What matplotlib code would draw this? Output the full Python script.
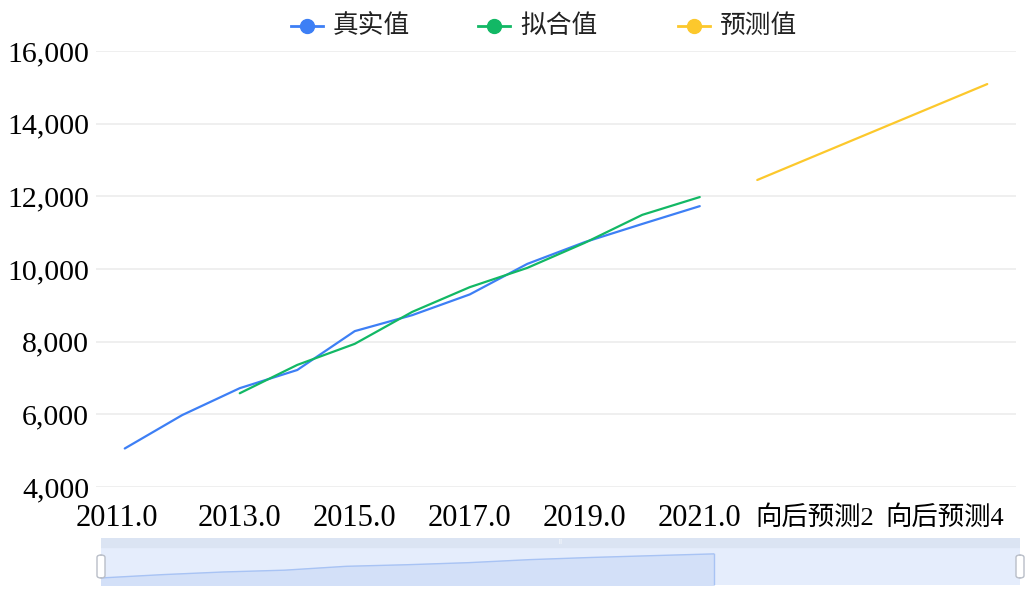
import matplotlib
matplotlib.use("Agg")
import matplotlib.pyplot as plt
import matplotlib.transforms as mtransforms
from matplotlib.lines import Line2D
from matplotlib.patches import FancyBboxPatch, Rectangle
import numpy as np

plt.rcParams['font.family'] = ['Liberation Serif', 'Noto Sans CJK SC', 'DejaVu Sans']

# ─── datos ───
categorias = ["2011.0", "2012.0", "2013.0", "2014.0", "2015.0", "2016.0",
              "2017.0", "2018.0", "2019.0", "2020.0", "2021.0",
              "向后预测1", "向后预测2", "向后预测3", "向后预测4", "向后预测5"]
real = [5060, 5980, 6720, 7220, 8290, 8730, 9300, 10140, 10740, 11240, 11730]
ajuste = [None, None, 6580, 7360, 7940, 8820, 9500, 10030, 10720, 11490, 11980]
prediccion = [12450, 13110, 13770, 14430, 15090]
yticks = [4000, 6000, 8000, 10000, 12000, 14000, 16000]

AZUL = "#3d7ff5"
VERDE = "#12b865"
AMARILLO = "#fcc82c"

W, H = 1032, 595
fig = plt.figure(figsize=(W / 100, H / 100), dpi=100)

# ─── gráfica principal ───
ax = fig.add_axes([96 / W, 1 - 487 / H, 920 / W, 436 / H])
x = np.arange(len(categorias))
ax.plot(x[:len(real)], real, color=AZUL, lw=1.6, solid_capstyle="round")
xa = [i for i, v in enumerate(ajuste) if v is not None]
ya = [v for v in ajuste if v is not None]
ax.plot(xa, ya, color=VERDE, lw=1.6, solid_capstyle="round")
ax.plot(x[len(real):], prediccion, color=AMARILLO, lw=1.6, solid_capstyle="round")

ax.set_xlim(-0.5, len(categorias) - 0.5)
ax.set_ylim(4000, 16000)
ax.set_yticks(yticks)
ax.set_yticklabels([f"{v:,}" for v in yticks], fontsize=21.5)
ax.set_xticks(x[::2])
ax.set_xticklabels([])
ax.tick_params(length=0)
ax.tick_params(axis="y", pad=5)
ax.grid(axis="y", color="#ececec", lw=1.2)
ax.set_axisbelow(True)
for s in ax.spines.values():
    s.set_visible(False)

# etiquetas del eje x (cada dos categorías)
desplaz = {0: -8, 14: 15}
for i in x[::2]:
    txt = categorias[i]
    tr = ax.get_xaxis_transform() + mtransforms.ScaledTranslation(desplaz.get(i, 0) / 100, 0, fig.dpi_scale_trans)
    tam = 22 if txt[0].isdigit() else 19
    ax.text(i, -31 / 436, txt, transform=tr, fontsize=tam, ha="center", va="center")

# ─── leyenda ───
ly = 1 - 26 / H
for cx, color, texto in [(307, AZUL, "真实值"), (494, VERDE, "拟合值"), (694, AMARILLO, "预测值")]:
    fig.add_artist(Line2D([(cx - 16) / W, (cx + 16) / W], [ly, ly], color=color, lw=2))
    fig.add_artist(Line2D([cx / W], [ly], marker="o", ms=10, color=color))
    fig.text((cx + 26) / W, ly, texto, fontsize=18.5, va="center", ha="left",
             family=["Noto Sans CJK SC"], color="#222222")

# ─── dataZoom ───
az = fig.add_axes([101 / W, 1 - 585 / H, 919 / W, 47 / H])
az.set_xlim(0, len(categorias) - 1)
az.set_ylim(3110, 16133)
az.axis("off")
az.add_patch(Rectangle((0, 3110), 15, 13023, color="#e5edfc", zorder=0))
az.add_patch(Rectangle((0, 16133 - 9 * 13023 / 47), 15, 9 * 13023 / 47, color="#dbe4f3", zorder=1))
xr = np.arange(len(real))
az.fill_between(xr, 3110, real, color="#d3e0f8", zorder=2)
az.plot(xr, real, color="#a8c3f4", lw=1, zorder=3)
az.plot([xr[-1], xr[-1]], [3110, real[-1]], color="#a8c3f4", lw=1, zorder=3)
for hx in [101, 1020]:
    fig.add_artist(FancyBboxPatch(((hx - 4) / W, 1 - 578 / H), 8 / W, 23 / H,
                                  boxstyle="round,pad=0,rounding_size=0.004",
                                  facecolor="white", edgecolor="#b9bec8", lw=1))
fig.text(561 / W, 1 - 542 / H, "|||", fontsize=5, color="#ffffff", ha="center", va="center")

fig.savefig("out.png", dpi=100, facecolor="white")
